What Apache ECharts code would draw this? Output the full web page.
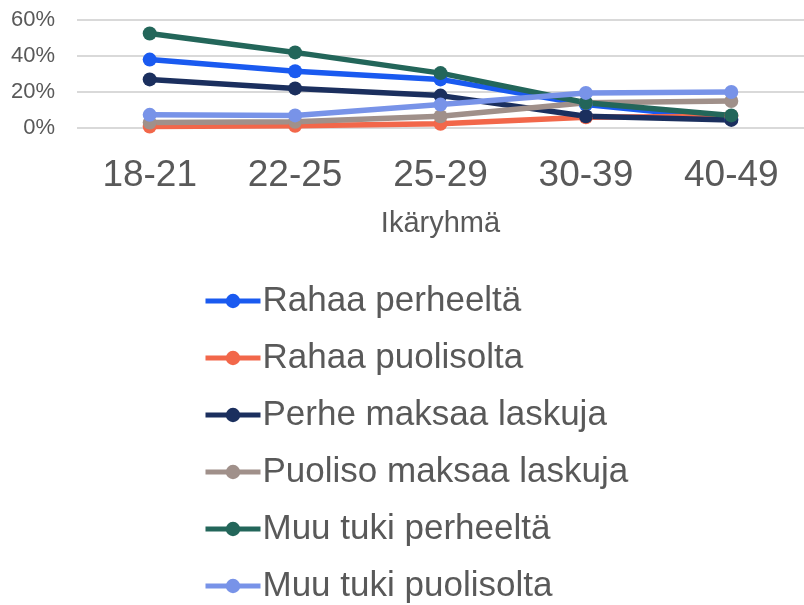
<!DOCTYPE html>
<html>
<head>
<meta charset="utf-8">
<script src="https://cdn.jsdelivr.net/npm/echarts@6/dist/echarts.min.js"></script>
<style>
html,body{margin:0;padding:0;background:#fff;}
#chart{width:804px;height:605px;}
</style>
</head>
<body>
<div id="chart"></div>
<script>
const categories = ['18-21', '22-25', '25-29', '30-39', '40-49'];
const seriesNames = ['Rahaa perheeltä', 'Rahaa puolisolta', 'Perhe maksaa laskuja', 'Puoliso maksaa laskuja', 'Muu tuki perheeltä', 'Muu tuki puolisolta'];
const rahaaPerheelta = [38, 31.5, 27, 13, 5];
const rahaaPuolisolta = [0.8, 1.2, 2.3, 6, 6.5];
const perheMaksaa = [27, 22, 18, 6.5, 4.5];
const puolisoMaksaa = [3, 3.5, 6.5, 14, 15];
const muuTukiPerheelta = [52.5, 42, 30.5, 14, 7];
const muuTukiPuolisolta = [7.3, 7, 13, 19.5, 20];
const yTicks = [0, 20, 40, 60];

const colors = ['#1A5AF0', '#F2674A', '#1B2F5E', '#A0908A', '#23665A', '#7893E8'];
const dataSets = [rahaaPerheelta, rahaaPuolisolta, perheMaksaa, puolisoMaksaa, muuTukiPerheelta, muuTukiPuolisolta];

const chart = echarts.init(document.getElementById('chart'), null, {renderer: 'canvas'});
const font = 'Liberation Sans, Arial, sans-serif';
chart.setOption({
  animation: false,
  color: colors,
  textStyle: {fontFamily: font, color: '#595959'},
  grid: {left: 77, top: 20, width: 730, height: 108, containLabel: false},
  xAxis: {
    type: 'category',
    data: categories,
    boundaryGap: true,
    axisLine: {show: false},
    axisTick: {show: false},
    axisLabel: {fontSize: 37, color: '#595959', margin: 29, fontFamily: font},
    name: 'Ikäryhmä',
    nameLocation: 'middle',
    nameGap: 81,
    nameTextStyle: {fontSize: 29, color: '#595959', fontFamily: font}
  },
  yAxis: {
    type: 'value',
    min: yTicks[0],
    max: yTicks[yTicks.length - 1],
    interval: 20,
    axisLine: {show: false},
    axisTick: {show: false},
    splitLine: {lineStyle: {color: '#d9d9d9', width: 2}},
    axisLabel: {formatter: '{value}%', fontSize: 22, color: '#595959', margin: 22, fontFamily: font}
  },
  legend: {
    orient: 'vertical',
    left: 203,
    top: 281,
    height: 500,
    padding: 0,
    itemWidth: 55,
    itemHeight: 18,
    itemGap: 17,
    lineStyle: {width: 5},
    textStyle: {fontSize: 35, color: '#595959', fontFamily: font, lineHeight: 40, padding: [0, 0, 0, -3]},
    data: seriesNames
  },
  series: seriesNames.map((n, i) => ({
    name: n,
    type: 'line',
    data: dataSets[i],
    symbol: 'circle',
    symbolSize: 14,
    lineStyle: {width: 5.5, color: colors[i]},
    itemStyle: {color: colors[i]}
  }))
});
</script>
</body>
</html>
